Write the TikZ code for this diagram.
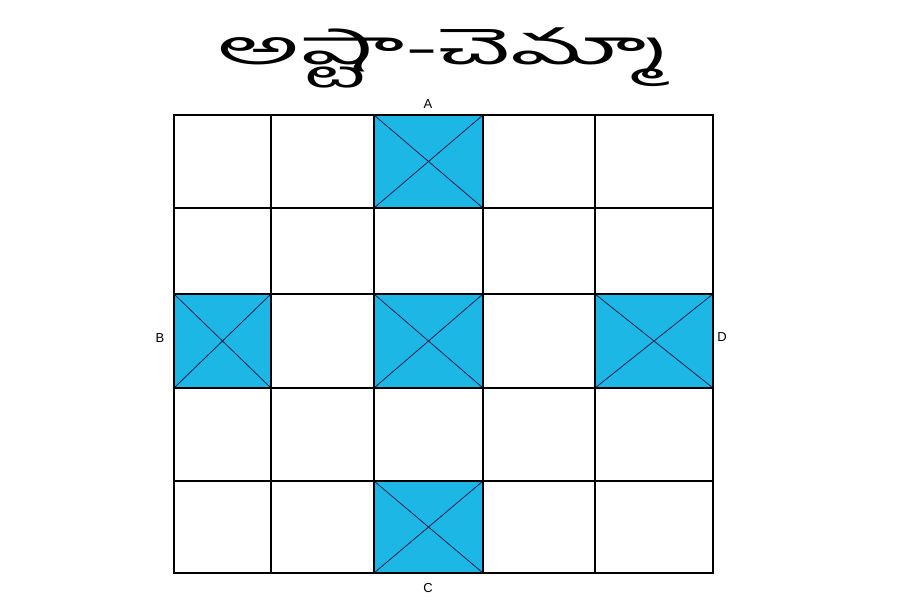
\documentclass[tikz,border=0pt]{standalone}
\usepackage{fontspec}
\setmainfont{Liberation Sans}
\newfontfamily\telugufont[Script=Telugu]{Hind Guntur}
\definecolor{cellblue}{RGB}{29,183,229}
\definecolor{diag}{RGB}{20,30,80}
\begin{document}
\begin{tikzpicture}[x=1pt,y=-1pt,
  bluecell/.style={fill=cellblue,draw=none},
  crossline/.style={draw=diag,line width=0.8pt},
  lbl/.style={font=\fontsize{13}{15}\selectfont,inner sep=0pt},
  gridline/.style={draw=black,line cap=rect}]
\useasboundingbox (0,0) rectangle (905,605);
% blue cells
\foreach \n/\xa/\ya/\xb/\yb in {ca/374/115/483/208, cm/374/294/483/388, cc/374/481/483/573, cb/174/294/271/388, cd/595/294/713/388}{
  \path[bluecell] (\xa,\ya) rectangle (\xb,\yb);
  \coordinate (\n-nw) at (\xa,\ya);
  \coordinate (\n-se) at (\xb,\yb);
  \coordinate (\n-ne) at (\xb,\ya);
  \coordinate (\n-sw) at (\xa,\yb);
  \draw[crossline] (\n-nw) -- (\n-se) (\n-ne) -- (\n-sw);
}
% horizontal lines
\foreach \y/\w in {115/2.6, 208/2.6, 294/1.6, 388/1.5, 481/1.1, 573/2.6}{
  \draw[gridline,line width=\w pt] (174,\y) -- (713,\y);
}
% vertical lines
\foreach \x/\w in {174/1.6, 271/2.1, 374/2.1, 483/1.6, 595/1.1, 713/2.6}{
  \draw[gridline,line width=\w pt] (\x,115) -- (\x,573);
}
% labels
\node[lbl] (A) at (428,104) {A};
\node[lbl] (B) at (160,338) {B};
\node[lbl] (C) at (428,588) {C};
\node[lbl] (D) at (722,337) {D};
% title
\node[inner sep=0pt,xscale=2.1,transform shape] (title) at (445,58) {\telugufont\fontsize{48}{56}\selectfont అష్టా-చెమ్మా};
\end{tikzpicture}
\end{document}
